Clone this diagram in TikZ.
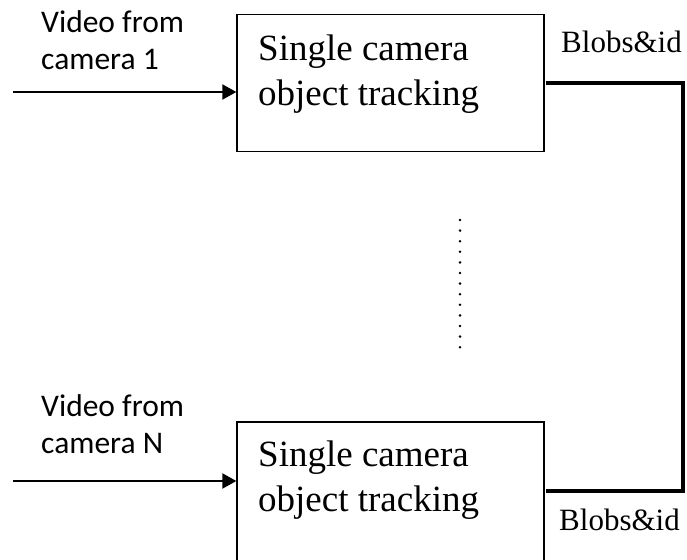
\documentclass[tikz,border=0pt]{standalone}
\usepackage{fontspec}
\setmainfont{Liberation Serif}
\newfontfamily\calib{Carlito}
\usetikzlibrary{arrows.meta}
\begin{document}
\begin{tikzpicture}[x=1pt,y=-1pt,
  procbox/.style={draw, line width=1.3pt, minimum width=307pt, minimum height=137pt, inner sep=0pt},
  boxtext/.style={anchor=base west, inner sep=0pt, align=left, font=\fontsize{37}{45}\selectfont},
  vidtext/.style={anchor=base west, inner sep=0pt, align=left, font=\calib\fontsize{31.5}{37}\selectfont},
  outtext/.style={anchor=base west, inner sep=0pt, font=\fontsize{31}{37}\selectfont},
  inarrow/.style={line width=2pt, -{Triangle[length=14pt,width=15pt]}},
  outline/.style={line width=4.2pt}]
\useasboundingbox (0,0) rectangle (687,559);
\clip (0,0) rectangle (687,559);
\node[procbox] (b1) at (390.5,83) {};
\node[procbox, minimum height=146pt] (b2) at (390.5,495) {};
\node[boxtext] (t1) at (258,105.7) {Single camera\\object tracking};
\node[boxtext] (t2) at (258,511.7) {Single camera\\object tracking};
\node[vidtext] (v1) at (41,70) {Video from\\camera 1};
\node[vidtext] (v2) at (41,453) {Video from\\camera N};
\node[outtext] (o1) at (561,53) {Blobs\&id};
\node[outtext] (o2) at (559,530) {Blobs\&id};
\coordinate (in1) at (13,92);
\coordinate (in2) at (13,481);
\coordinate (corner) at (683,83);
\draw[inarrow] (in1) -- (in1 -| b1.west);
\draw[inarrow] (in2) -- (in2 -| b2.west);
\draw[outline] ([xshift=1pt]b1.east) -- (corner) |- ([xshift=1pt,yshift=4pt]b2.east);
\foreach \k in {0,...,12}
  \fill (460,220+10.6*\k) circle (1.4pt);
\end{tikzpicture}
\end{document}
